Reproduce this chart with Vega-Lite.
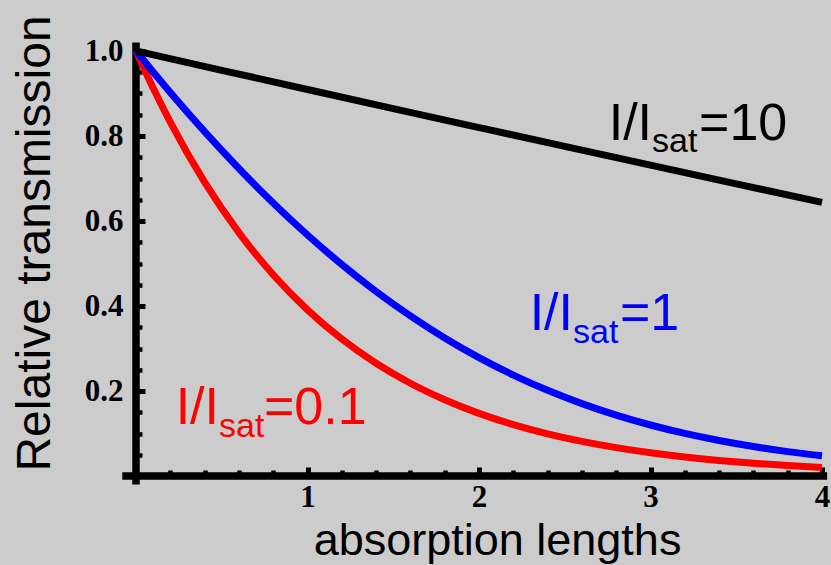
{
  "$schema": "https://vega.github.io/schema/vega-lite/v6.json",
  "width": 686,
  "height": 425,
  "autosize": "none",
  "padding": {"left": 136, "top": 51, "right": 9, "bottom": 89},
  "background": "#cccccc",
  "config": {
    "view": {"stroke": null},
    "axis": {
      "domain": false,
      "grid": false,
      "tickColor": "black",
      "labelFont": "Liberation Serif",
      "labelFontWeight": "bold",
      "labelFontSize": 31,
      "labelColor": "black",
      "titleFont": "Liberation Sans",
      "titleFontWeight": "normal",
      "titleColor": "black"
    }
  },
  "datasets": {
    "curves": [
      {"z": 0, "T": 1, "s": "0.1"}, {"z": 0.1, "T": 0.9127, "s": "0.1"}, {"z": 0.2, "T": 0.8326, "s": "0.1"}, {"z": 0.4, "T": 0.6913, "s": "0.1"},
      {"z": 0.6, "T": 0.5728, "s": "0.1"}, {"z": 0.8, "T": 0.4736, "s": "0.1"}, {"z": 1.0, "T": 0.391, "s": "0.1"},
      {"z": 1.2, "T": 0.3223, "s": "0.1"}, {"z": 1.4, "T": 0.2654, "s": "0.1"}, {"z": 1.6, "T": 0.2183, "s": "0.1"},
      {"z": 1.8, "T": 0.1795, "s": "0.1"}, {"z": 2.0, "T": 0.1474, "s": "0.1"}, {"z": 2.2, "T": 0.121, "s": "0.1"},
      {"z": 2.4, "T": 0.0993, "s": "0.1"}, {"z": 2.6, "T": 0.0814, "s": "0.1"}, {"z": 2.8, "T": 0.0667, "s": "0.1"},
      {"z": 3.0, "T": 0.0547, "s": "0.1"}, {"z": 3.2, "T": 0.0448, "s": "0.1"}, {"z": 3.4, "T": 0.0367, "s": "0.1"},
      {"z": 3.6, "T": 0.0301, "s": "0.1"}, {"z": 3.8, "T": 0.0247, "s": "0.1"}, {"z": 4.0, "T": 0.0202, "s": "0.1"},
      {"z": 0, "T": 1, "s": "1"}, {"z": 0.1, "T": 0.9506, "s": "1"}, {"z": 0.2, "T": 0.9025, "s": "1"}, {"z": 0.4, "T": 0.8103, "s": "1"},
      {"z": 0.6, "T": 0.7236, "s": "1"}, {"z": 0.8, "T": 0.6425, "s": "1"}, {"z": 1.0, "T": 0.5671, "s": "1"},
      {"z": 1.2, "T": 0.4977, "s": "1"}, {"z": 1.4, "T": 0.4342, "s": "1"}, {"z": 1.6, "T": 0.3766, "s": "1"},
      {"z": 1.8, "T": 0.3247, "s": "1"}, {"z": 2.0, "T": 0.2785, "s": "1"}, {"z": 2.2, "T": 0.2375, "s": "1"},
      {"z": 2.4, "T": 0.2016, "s": "1"}, {"z": 2.6, "T": 0.1703, "s": "1"}, {"z": 2.8, "T": 0.1432, "s": "1"},
      {"z": 3.0, "T": 0.12, "s": "1"}, {"z": 3.2, "T": 0.1002, "s": "1"}, {"z": 3.4, "T": 0.0835, "s": "1"},
      {"z": 3.6, "T": 0.0693, "s": "1"}, {"z": 3.8, "T": 0.0574, "s": "1"}, {"z": 4.0, "T": 0.0475, "s": "1"},
      {"z": 0, "T": 1, "s": "10"}, {"z": 0.5, "T": 0.9546, "s": "10"}, {"z": 1.0, "T": 0.9095, "s": "10"},
      {"z": 1.5, "T": 0.8646, "s": "10"}, {"z": 2.0, "T": 0.8199, "s": "10"}, {"z": 2.5, "T": 0.7754, "s": "10"},
      {"z": 3.0, "T": 0.7313, "s": "10"}, {"z": 3.5, "T": 0.6875, "s": "10"}, {"z": 4.0, "T": 0.644, "s": "10"}
    ],
    "axes": [
      {"z": -0.08, "z2": 4.03, "T": 0, "T2": 0},
      {"z": 0, "z2": 0, "T": -0.02, "T2": 1.02}
    ],
    "labels": [
      {"s": "10", "part": "main", "text": "I/I", "z": 3.009, "T": 0.7916, "align": "right"},
      {"s": "10", "part": "sub", "text": "sat", "z": 3.009, "T": 0.7635},
      {"s": "10", "part": "main", "text": "=10", "z": 3.283, "T": 0.7916, "align": "left"},
      {"s": "1", "part": "main", "text": "I/I", "z": 2.548, "T": 0.3443, "align": "right"},
      {"s": "1", "part": "sub", "text": "sat", "z": 2.548, "T": 0.3138},
      {"s": "1", "part": "main", "text": "=1", "z": 2.822, "T": 0.3443, "align": "left"},
      {"s": "0.1", "part": "main", "text": "I/I", "z": 0.484, "T": 0.1218, "align": "right"},
      {"s": "0.1", "part": "sub", "text": "sat", "z": 0.484, "T": 0.0913},
      {"s": "0.1", "part": "main", "text": "=0.1", "z": 0.746, "T": 0.1218, "align": "left"}
    ]
  },
  "encoding": {
    "x": {"field": "z", "type": "quantitative", "scale": {"domain": [0, 4], "nice": false, "zero": false},
      "axis": {
        "title": "absorption lengths",
        "titleFontSize": 45,
        "titleAnchor": "start",
        "titleAlign": "center",
        "titleBaseline": "alphabetic",
        "titleX": 361,
        "titleY": 78,
        "values": [0.2,0.4,0.6,0.8,1,1.2,1.4,1.6,1.8,2,2.2,2.4,2.6,2.8,3,3.2,3.4,3.6,3.8,4],
        "labelExpr": "datum.value % 1 === 0 ? format(datum.value, 'd') : ''",
        "labelBaseline": "alphabetic",
        "labelPadding": 39,
        "labelFlush": false,
        "labelOverlap": false,
        "tickSize": {"condition": {"test": "datum.value % 1 === 0", "value": -9}, "value": -6},
        "tickWidth": {"condition": {"test": "datum.value % 1 === 0", "value": 5}, "value": 4.5}
      }
    },
    "y": {"field": "T", "type": "quantitative", "scale": {"domain": [0, 1], "nice": false},
      "axis": {
        "title": "Relative transmission",
        "titleFontSize": 48,
        "titleAngle": -90,
        "titleAnchor": "start",
        "titleAlign": "center",
        "titleBaseline": "alphabetic",
        "titleX": -87,
        "titleY": 192,
        "values": [0.05,0.1,0.15,0.2,0.25,0.3,0.35,0.4,0.45,0.5,0.55,0.6,0.65,0.7,0.75,0.8,0.85,0.9,0.95,1.0],
        "labelExpr": "abs(datum.value*5 - round(datum.value*5)) < 0.001 ? format(datum.value, '.1f') : ''",
        "labelPadding": 22,
        "labelFlush": false,
        "labelOverlap": false,
        "tickSize": {"condition": {"test": "abs(datum.value*5 - round(datum.value*5)) < 0.001", "value": -9}, "value": -6},
        "tickWidth": {"condition": {"test": "abs(datum.value*5 - round(datum.value*5)) < 0.001", "value": 5}, "value": 4.5}
      }
    }
  },
  "layer": [
    {
      "data": {"name": "axes"},
      "mark": {"type": "rule", "color": "black", "strokeWidth": 7.5},
      "encoding": {
        "x2": {"field": "z2"},
        "y2": {"field": "T2"}
      }
    },
    {
      "data": {"name": "curves"},
      "mark": {"type": "line", "strokeWidth": 7, "interpolate": "monotone"},
      "encoding": {
        "color": {"field": "s", "type": "nominal", "legend": null,
          "scale": {"domain": ["0.1", "1", "10"], "range": ["#ff0000", "#0000ff", "#000000"]}}
      }
    },
    {
      "data": {"name": "labels"},
      "transform": [{"filter": "datum.part === 'main' && datum.align === 'right'"}],
      "mark": {"type": "text", "font": "Liberation Sans", "fontSize": 52, "align": "right", "baseline": "alphabetic"},
      "encoding": {
        "text": {"field": "text"},
        "color": {"field": "s", "type": "nominal", "legend": null}
      }
    },
    {
      "data": {"name": "labels"},
      "transform": [{"filter": "datum.part === 'main' && datum.align === 'left'"}],
      "mark": {"type": "text", "font": "Liberation Sans", "fontSize": 52, "align": "left", "baseline": "alphabetic"},
      "encoding": {
        "text": {"field": "text"},
        "color": {"field": "s", "type": "nominal", "legend": null}
      }
    },
    {
      "data": {"name": "labels"},
      "transform": [{"filter": "datum.part === 'sub'"}],
      "mark": {"type": "text", "font": "Liberation Sans", "fontSize": 34, "align": "left", "baseline": "alphabetic"},
      "encoding": {
        "text": {"field": "text"},
        "color": {"field": "s", "type": "nominal", "legend": null}
      }
    }
  ]
}
